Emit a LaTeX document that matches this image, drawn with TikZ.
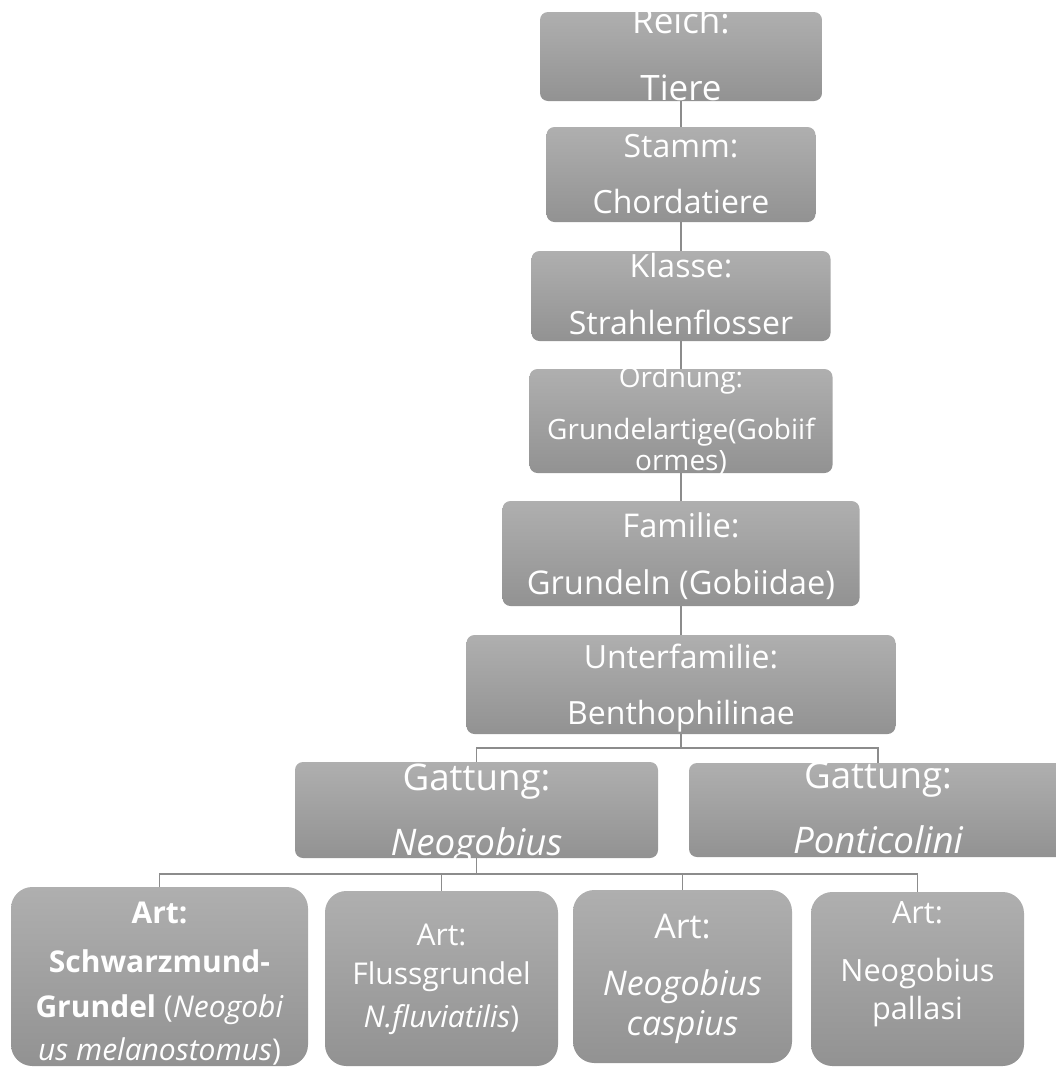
\documentclass[tikz,border=0pt]{standalone}
\usepackage{fontspec}
\setmainfont{Open Sans}
\definecolor{boxtop}{RGB}{175,175,175}
\definecolor{boxbot}{RGB}{146,146,146}
\definecolor{conncol}{RGB}{140,140,140}
\newcommand\fsz[1]{\fontsize{#1pt}{#1pt}\selectfont}
\tikzset{
  tbox/.style={rectangle, rounded corners=#1, top color=boxtop, bottom color=boxbot, draw=none, inner sep=0pt, outer sep=0pt},
  tbox/.default=6pt,
  ln/.style={anchor=base, text=white, inner sep=0pt, outer sep=0pt},
  conn/.style={draw=conncol, line width=0.8pt}
}
\begin{document}
\begin{tikzpicture}[x=0.75pt,y=-0.75pt]
\useasboundingbox (0,0) rectangle (1056,1068);
\clip (0,0) rectangle (1056,1068);
% boxes
\node[tbox, minimum width=282*0.75pt, minimum height=89*0.75pt] (reich) at (681,56.5) {};
\node[tbox, minimum width=269*0.75pt, minimum height=95*0.75pt] (stamm) at (681,174.5) {};
\node[tbox, minimum width=299*0.75pt, minimum height=90*0.75pt] (klasse) at (681,296) {};
\node[tbox, minimum width=303*0.75pt, minimum height=104*0.75pt] (ordnung) at (681,421) {};
\node[tbox, minimum width=357*0.75pt, minimum height=105*0.75pt] (familie) at (681,553.5) {};
\node[tbox, minimum width=429*0.75pt, minimum height=99*0.75pt] (unter) at (681,684.5) {};
\node[tbox, minimum width=363*0.75pt, minimum height=96*0.75pt] (gneo) at (476.5,810) {};
\node[tbox, minimum width=378*0.75pt, minimum height=94*0.75pt] (gpont) at (878,810) {};
\node[tbox=16pt, minimum width=297*0.75pt, minimum height=179*0.75pt] (art1) at (159.5,976.5) {};
\node[tbox=16pt, minimum width=233*0.75pt, minimum height=175*0.75pt] (art2) at (441.5,978.5) {};
\node[tbox=16pt, minimum width=219*0.75pt, minimum height=173*0.75pt] (art3) at (682.5,976.5) {};
\node[tbox=16pt, minimum width=213*0.75pt, minimum height=174*0.75pt] (art4) at (917.5,979) {};
% texts
\node[ln, font=\fsz{26.25}] (reich-a) at (681,33) {Reich:};
\node[ln, font=\fsz{26.25}] (reich-b) at (681,100) {Tiere};
\node[ln, font=\fsz{24}] (stamm-a) at (681,157) {Stamm:};
\node[ln, font=\fsz{24}] (stamm-b) at (681,213) {Chordatiere};
\node[ln, font=\fsz{24}] (klasse-a) at (681,277) {Klasse:};
\node[ln, font=\fsz{24}] (klasse-b) at (681,334) {Strahlenflosser};
\node[ln, font=\fsz{21}] (ordnung-a) at (681,387) {Ordnung:};
\node[ln, font=\fsz{21}] (ordnung-b) at (681,439) {Grundelartige(Gobiif};
\node[ln, font=\fsz{21}] (ordnung-c) at (681,470) {ormes)};
\node[ln, font=\fsz{24.5}] (familie-a) at (681,537) {Familie:};
\node[ln, font=\fsz{24.5}] (familie-b) at (681,594) {Grundeln (Gobiidae)};
\node[ln, font=\fsz{24}] (unter-a) at (681,668) {Unterfamilie:};
\node[ln, font=\fsz{24}] (unter-b) at (681,724) {Benthophilinae};
\node[ln, font=\fsz{27.5}] (gneo-a) at (476.5,790) {Gattung:};
\node[ln, font=\fsz{27.5}] (gneo-b) at (476.5,855) {\itshape Neogobius};
\node[ln, font=\fsz{27.5}] (gpont-a) at (878,788) {Gattung:};
\node[ln, font=\fsz{27.5}] (gpont-b) at (878,853) {\itshape Ponticolini};
\node[ln, font=\fsz{22.5}] (art1-a) at (159.5,923) {\bfseries Art:};
\node[ln, font=\fsz{22.5}] (art1-b) at (159.5,972) {\bfseries Schwarzmund-};
\node[ln, font=\fsz{22.5}] (art1-c) at (159.5,1017) {\textbf{Grundel} (\textit{Neogobi}};
\node[ln, font=\fsz{22.5}] (art1-d) at (159.5,1060) {\textit{us melanostomus})};
\node[ln, font=\fsz{22.5}] (art2-a) at (441.5,945) {Art:};
\node[ln, font=\fsz{22.5}] (art2-b) at (441.5,984) {Flussgrundel};
\node[ln, font=\fsz{22.5}] (art2-c) at (441.5,1027) {\textit{N.fluviatilis})};
\node[ln, font=\fsz{25.5}] (art3-a) at (682.5,938) {Art:};
\node[ln, font=\fsz{25.5}] (art3-b) at (682.5,995) {\itshape Neogobius};
\node[ln, font=\fsz{25.5}] (art3-c) at (682.5,1035) {\itshape caspius};
\node[ln, font=\fsz{23}] (art4-a) at (917.5,923) {Art:};
\node[ln, font=\fsz{23}] (art4-b) at (917.5,981) {Neogobius};
\node[ln, font=\fsz{23}] (art4-c) at (917.5,1019) {pallasi};
% connectors
\draw[conn] (reich.south) -- (stamm.north);
\draw[conn] (stamm.south) -- (klasse.north);
\draw[conn] (klasse.south) -- (ordnung.north);
\draw[conn] (ordnung.south) -- (familie.north);
\draw[conn] (familie.south) -- (unter.north);
\coordinate (ubus) at (681,748);
\draw[conn] (unter.south) -- (ubus) -| (gneo.north);
\draw[conn] (ubus) -| (gpont.north);
\coordinate (nbus) at (476.5,874);
\draw[conn] (gneo.south) -- (nbus) -| (art1.north);
\draw[conn] (nbus) -| (art2.north);
\draw[conn] (nbus) -| (art3.north);
\draw[conn] (nbus) -| (art4.north);
\end{tikzpicture}
\end{document}
